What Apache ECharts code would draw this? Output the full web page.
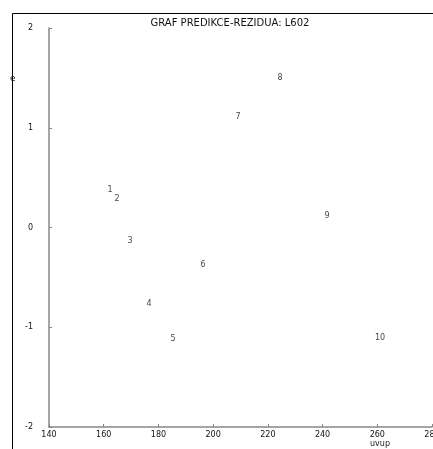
<!DOCTYPE html>
<html>
<head>
<meta charset="utf-8">
<style>
  html, body { margin: 0; padding: 0; background: #fff; }
  #chart { width: 433px; height: 449px; }
</style>
<script src="https://cdn.jsdelivr.net/npm/echarts@6/dist/echarts.min.js"></script>
</head>
<body>
<div id="chart"></div>
<script>
// Predicted values (x) and residuals (e) for each observation
const pointIds = ['1', '2', '3', '4', '5', '6', '7', '8', '9', '10'];
const predicted = [162.3, 164.9, 169.6, 176.6, 185.3, 196.3, 209.1, 224.5, 241.6, 261.0];
const residuals = [0.38, 0.29, -0.13, -0.77, -1.12, -0.38, 1.11, 1.50, 0.12, -1.11];

const titleText = 'GRAF PREDIKCE-REZIDUA: L602';
const xName = 'uvup';
const yName = 'e';

const labelFont = 'DejaVu Sans';
const chart = echarts.init(document.getElementById('chart'));

chart.setOption({
  animation: false,
  backgroundColor: '#fff',
  title: {
    text: titleText,
    left: 225,
    top: 13,
    textAlign: 'center',
    textStyle: { fontFamily: labelFont, fontSize: 10, fontWeight: 'normal', color: '#111' }
  },
  graphic: [
    {
      // outer frame
      type: 'polyline',
      shape: { points: [[12.5, 460], [12.5, 13.5], [440, 13.5]] },
      style: { stroke: '#000', lineWidth: 1, fill: null },
      silent: true
    },
    {
      type: 'text',
      left: 10,
      top: 74,
      style: { text: yName, font: '9px ' + labelFont, fill: '#111' }
    },
    {
      type: 'text',
      left: 370,
      top: 440,
      style: { text: xName, font: '8px ' + labelFont, fill: '#222' }
    }
  ],
  grid: { left: 49, right: 1, top: 28, bottom: 22, outerBoundsMode: 'none', containLabel: false },
  xAxis: {
    type: 'value',
    min: 140,
    max: 280,
    interval: 20,
    axisLine: { onZero: false, lineStyle: { color: '#888', width: 1.5 } },
    axisTick: { inside: true, length: 3, lineStyle: { color: '#888' } },
    axisLabel: { fontFamily: labelFont, fontSize: 8, color: '#111', margin: 4, showMaxLabel: true, hideOverlap: false },
    splitLine: { show: false }
  },
  yAxis: {
    type: 'value',
    min: -2,
    max: 2,
    interval: 1,
    axisLine: { onZero: false, lineStyle: { color: '#888', width: 1.5 } },
    axisTick: { inside: true, length: 3, lineStyle: { color: '#888' } },
    axisLabel: { fontFamily: labelFont, fontSize: 8, color: '#111', margin: 16 },
    splitLine: { show: false }
  },
  series: [{
    type: 'scatter',
    symbolSize: 1,
    itemStyle: { color: 'rgba(0,0,0,0)' },
    data: predicted.map((x, i) => ({ value: [x, residuals[i]], name: pointIds[i] })),
    label: {
      show: true,
      position: 'inside',
      formatter: p => p.name,
      fontFamily: labelFont,
      fontSize: 8,
      color: '#111'
    }
  }]
});
</script>
</body>
</html>
